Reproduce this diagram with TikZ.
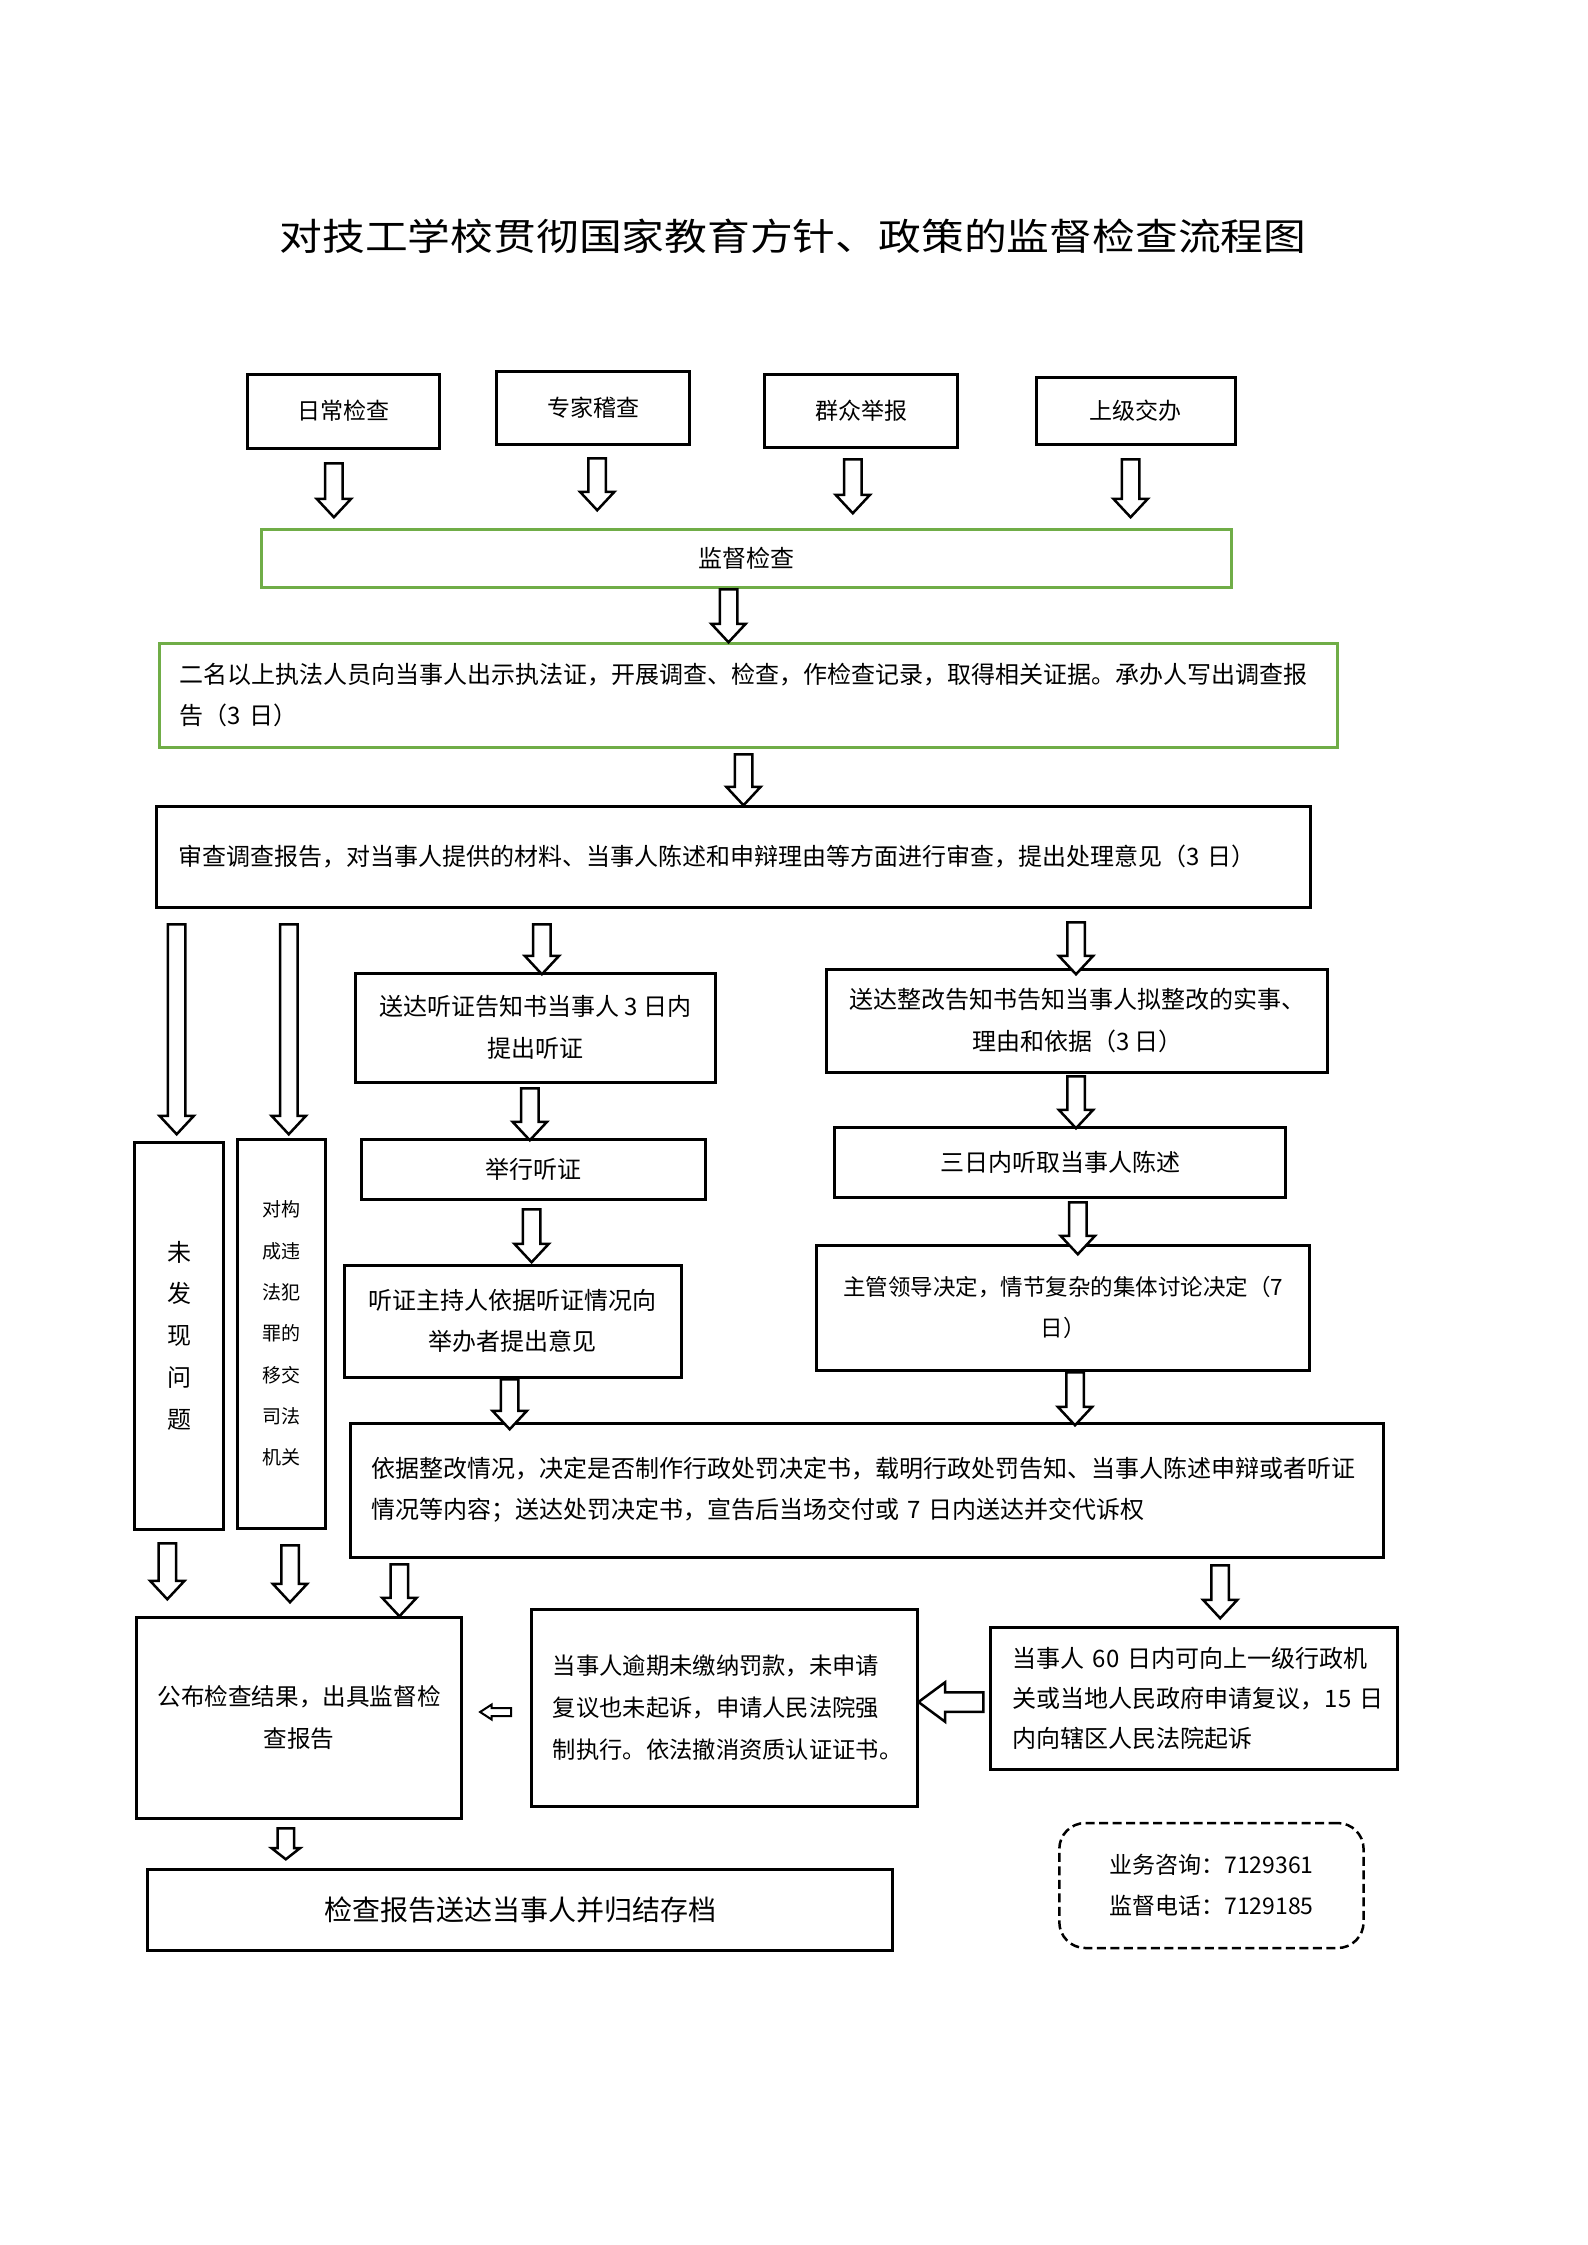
\documentclass[tikz,border=0pt]{standalone}
\usepackage{fontspec}
\setmainfont{Noto Sans CJK SC}
\newfontfamily\titlefont[FakeStretch=1.15]{Noto Sans CJK SC}
\usetikzlibrary{shapes.arrows}
\definecolor{grn}{HTML}{70AD47}
\newcommand\fs[2]{\fontsize{#1}{#2}\selectfont}
\newcommand\bx[7][]{\node[box,minimum width={#5-#3},minimum height={#6-#4},#1] (#2) at ({(#3+#5)/2},{(#4+#6)/2}) {#7};}
\tikzset{
  box/.style={draw=black, line width=3pt, inner sep=0pt, align=center, font=\fs{24}{41.5}},
  gbox/.style={draw=grn},
  arrbase/.style={single arrow, draw=black, line width=2.5pt, fill=white, minimum width=0pt,
    single arrow head indent=0pt, anchor=tail},
  darr/.style={arrbase, inner sep=7.5pt, single arrow head extend=8.5pt, single arrow tip angle=86, rotate=-90},
  sdarr/.style={arrbase, inner sep=7pt, single arrow head extend=6pt, single arrow tip angle=104, rotate=-90},
  blarr/.style={arrbase, inner sep=8.5pt, single arrow head extend=10pt, single arrow tip angle=73, rotate=180},
  slarr/.style={arrbase, line width=2pt, inner sep=3pt, single arrow head extend=3.5pt, single arrow tip angle=66, rotate=180},
}
\begin{document}
\begin{tikzpicture}[x=1pt,y=-1pt]
\fill[white] (0,0) rectangle (1587,2245);
\useasboundingbox (0,0) rectangle (1587,2245);

\node[font=\titlefont\fontsize{37.2}{40}\selectfont] (title) at (793,236) {对技工学校贯彻国家教育方针、政策的监督检查流程图};

% top sources
\bx[font=\fs{23}{30}]{b1}{247.4}{374}{439.5}{448}{日常检查}
\bx[font=\fs{23}{30}]{b2}{496.9}{371}{689.8}{444}{专家稽查}
\bx[font=\fs{23}{30}]{b3}{764.8}{374}{957.6}{447}{群众举报}
\bx[font=\fs{23}{30}]{b4}{1036.5}{377}{1235.4}{444}{上级交办}

\bx[gbox]{g1}{261.2}{529}{1231.6}{587}{监督检查}
\bx[gbox,align=left,text width=1137.5pt]{g2}{159.9}{643}{1337.4}{747}{二名以上执法人员向当事人出示执法证，开展调查、检查，作检查记录，取得相关证据。承办人写出调查报\\告（3~日）}
\bx[align=left,text width=1109.7pt]{b5}{156}{806}{1310.3}{907}{审查调查报告，对当事人提供的材料、当事人陈述和申辩理由等方面进行审查，提出处理意见（3~日）}

% left columns
\bx[font=\fs{24}{41.7}]{v1}{134.9}{1142}{223.6}{1529}{未\\发\\现\\问\\题}
\bx[font=\fs{19}{41.3}]{v2}{237.7}{1139}{325.6}{1528}{对构\\成违\\法犯\\罪的\\移交\\司法\\机关}

% hearing branch
\bx{h1}{355}{973}{715.5}{1082}{送达听证告知书当事人~3~日内\\提出听证}
\bx{h2}{361}{1139}{705}{1199}{举行听证}
\bx{h3}{344.6}{1265}{681}{1377}{听证主持人依据听证情况向\\举办者提出意见}

% rectification branch
\bx{r1}{826.9}{969}{1327.8}{1072}{送达整改告知书告知当事人拟整改的实事、\\理由和依据（3~日）}
\bx{r2}{834.5}{1127}{1285.8}{1197}{三日内听取当事人陈述}
\bx[font=\fs{22.5}{41.7}]{r3}{816.6}{1245}{1309.5}{1370}{主管领导决定，情节复杂的集体讨论决定（7\\日）}

\bx[align=left,text width=991.6pt,font=\fs{24}{41}]{big}{350.5}{1423}{1383.5}{1557}{依据整改情况，决定是否制作行政处罚决定书，载明行政处罚告知、当事人陈述申辩或者听证\\情况等内容；送达处罚决定书，宣告后当场交付或~7~日内送达并交代诉权}

% bottom row
\bx[font=\fs{23.6}{42}]{p1}{136.6}{1617}{461.6}{1818}{公布检查结果，出具监督检\\查报告}
\bx[align=left,text width=342.9pt,font=\fs{23.3}{42.3}]{p2}{531.2}{1609}{917.5}{1806}{当事人逾期未缴纳罚款，未申请\\复议也未起诉，申请人民法院强\\制执行。依法撤消资质认证证书。}
\bx[align=left,text width=362.3pt,font=\fs{24}{40}]{p3}{990.5}{1627}{1397.6}{1769}{当事人~60~日内可向上一级行政机\\关或当地人民政府申请复议，15~日\\内向辖区人民法院起诉}
\bx[font=\fs{28}{34}]{p4}{147.4}{1869}{892.7}{1950}{检查报告送达当事人并归结存档}
\bx[line width=2.5pt,dash pattern=on 9pt off 4.5pt,rounded corners=26pt,font=\fs{23}{40.6}]{d1}{1059.3}{1823}{1363.6}{1948}{业务咨询：7129361\\监督电话：7129185}

% block arrows
\node[darr,minimum height=54] (a1) at (333.9,462) {};
\node[darr,minimum height=52] (a2) at (597.2,457) {};
\node[darr,minimum height=54] (a3) at (852.8,458) {};
\node[darr,minimum height=58] (a4) at (1130.6,458) {};
\node[darr,minimum height=53] (a5) at (728.5,588) {};
\node[darr,minimum height=51] (a6) at (743.5,753) {};
\node[darr,minimum height=210] (a7) at (176.7,923) {};
\node[darr,minimum height=210] (a8) at (288.75,923) {};
\node[darr,minimum height=50] (a9) at (541.9,923) {};
\node[darr,minimum height=52] (a10) at (1076,921) {};
\node[darr,minimum height=52] (a11) at (529.8,1087) {};
\node[darr,minimum height=53] (a12) at (531.6,1208) {};
\node[darr,minimum height=52] (a13) at (1076,1075) {};
\node[darr,minimum height=52] (a14) at (1077.8,1201) {};
\node[darr,minimum height=50] (a15) at (509.7,1378) {};
\node[darr,minimum height=53] (a16) at (1075,1371) {};
\node[darr,minimum height=56] (a17) at (167.3,1542) {};
\node[darr,minimum height=57] (a18) at (290,1544) {};
\node[darr,minimum height=52] (a19) at (399.4,1563) {};
\node[darr,minimum height=53] (a20) at (1220.2,1564) {};
\node[sdarr,minimum height=31] (a21) at (285.8,1827) {};
\node[blarr,minimum height=65] (l1) at (984.7,1702) {};
\node[slarr,minimum height=31] (l2) at (512.1,1712) {};
\end{tikzpicture}
\end{document}
